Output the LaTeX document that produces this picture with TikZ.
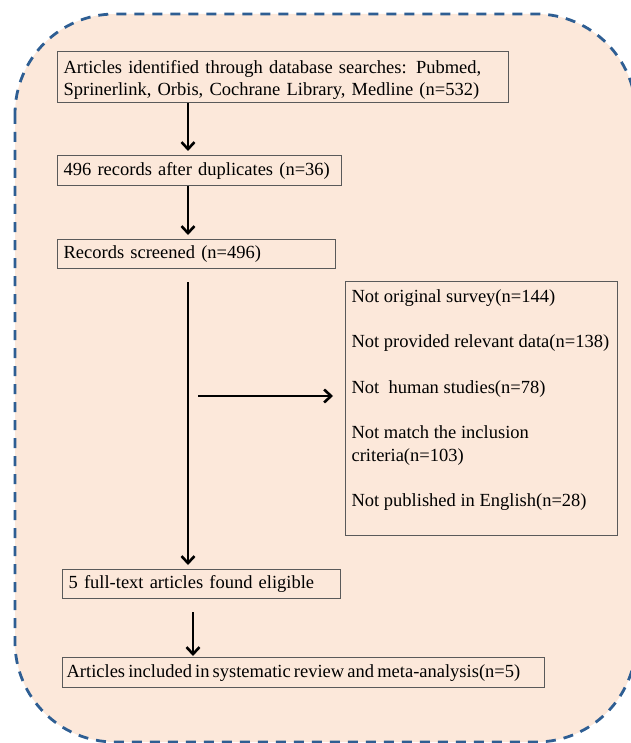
\documentclass[tikz,border=0pt]{standalone}
\usepackage{fontspec}
\setmainfont{Liberation Serif}
\usetikzlibrary{arrows.meta,positioning}
\definecolor{peach}{HTML}{FCE8DA}
\definecolor{dashblue}{HTML}{2E5E93}
\definecolor{boxgray}{HTML}{5A5A5A}
\tikzset{
    %Define standard arrow tip
    >={Straight Barb[length=7pt,width=13pt]},
    %Define style for boxes
    punkt/.style={
           rectangle,
           draw=boxgray, line width=1.2pt,
           anchor=north west,
           inner xsep=6pt, inner ysep=0pt,
           align=left,
           font=\fontsize{18.5}{22.5}\selectfont},
    % Define arrow style
    pil/.style={
           ->,
           line width=2.6pt,
           shorten <=0pt,
           shorten >=4pt,}
}
\begin{document}
\begin{tikzpicture}[x=1pt,y=-1pt]
\useasboundingbox (0,0) rectangle (630,743);
%background
\draw[fill=peach, draw=dashblue, line width=2.8pt, dash pattern=on 10pt off 8pt,
  rounded corners=100pt] (15,14) rectangle (636,742);
\coordinate (spine) at (188,0);
\coordinate (spine2) at (193,0);
\coordinate (branch) at (198,396);
%main column
\node[punkt, text width=439pt, minimum height=51pt] (ident) at (57,51)
  {\rule{0pt}{19pt}Articles identified through database searches: Pubmed,\\
   Sprinerlink, Orbis, Cochrane Library, Medline (n=532)};
\node[punkt, text width=272pt, minimum height=30pt] (dupl) at (57,155)
  {496 records after duplicates (n=36)};
\node[punkt, text width=266pt, minimum height=29pt] (screen) at (57,239)
  {Records screened (n=496)};
\node[punkt, text width=266pt, minimum height=29pt] (elig) at (62,569)
  {5 full-text articles found eligible};
\node[punkt, inner xsep=4pt, text width=474pt, minimum height=30pt] (incl) at (62,657)
  {\spaceskip=0.17em plus 0.05em\hyphenpenalty=10000
   Articles included in systematic review and meta-analysis(n=5)};
%excluded records
\node[punkt, inner ysep=8pt] (excl) at (345,281)
  {\parbox[c][238pt][t]{260pt}{\raggedright
   Not original survey(n=144)\\[23pt]
   Not provided relevant data(n=138)\\[23pt]
   Not\ \ human studies(n=78)\\[23pt]
   Not match the inclusion\\ criteria(n=103)\\[23pt]
   Not published in English(n=28)}};
%arrows
\draw[pil] (ident.south -| spine) -- (dupl.north -| spine);
\draw[pil] (dupl.south -| spine) -- (screen.north -| spine);
\draw[pil, shorten <=13pt] (screen.south -| spine) -- (elig.north -| spine);
\draw[pil, shorten >=12pt] (branch) -- (branch -| excl.west);
\draw[pil, shorten <=13pt, shorten >=1pt] (elig.south -| spine2) -- (incl.north -| spine2);
\end{tikzpicture}
\end{document}
